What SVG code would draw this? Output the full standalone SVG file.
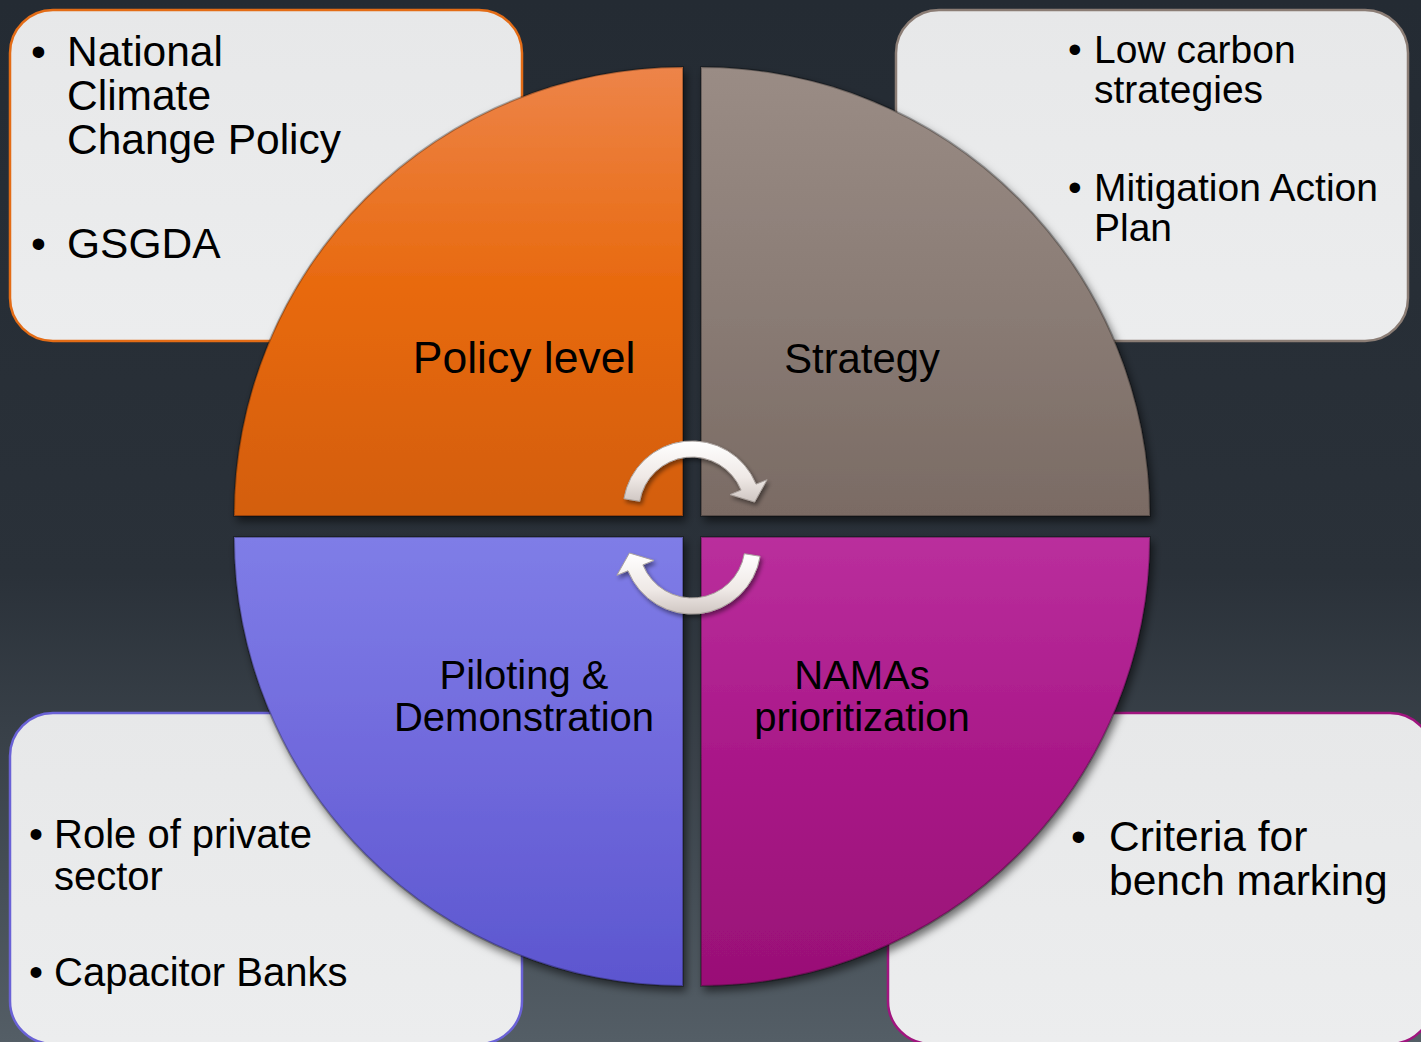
<svg xmlns="http://www.w3.org/2000/svg" width="1421" height="1042" viewBox="0 0 1421 1042">
  <defs>
    <linearGradient id="bg" x1="0" y1="0" x2="0" y2="1">
      <stop offset="0" stop-color="#242b33"/>
      <stop offset="0.55" stop-color="#2a3139"/>
      <stop offset="1" stop-color="#545e66"/>
    </linearGradient>
    <linearGradient id="boxFill" x1="0" y1="0" x2="0" y2="1">
      <stop offset="0" stop-color="#e7e8e9"/>
      <stop offset="1" stop-color="#ecedee"/>
    </linearGradient>
    <linearGradient id="gPolicy" gradientUnits="userSpaceOnUse" x1="0" y1="67" x2="0" y2="516">
      <stop offset="0" stop-color="#ed8449"/>
      <stop offset="0.5" stop-color="#e8690d"/>
      <stop offset="1" stop-color="#d35e0a"/>
    </linearGradient>
    <linearGradient id="gStrategy" gradientUnits="userSpaceOnUse" x1="0" y1="67" x2="0" y2="516">
      <stop offset="0" stop-color="#9a8c85"/>
      <stop offset="0.5" stop-color="#8b7d76"/>
      <stop offset="1" stop-color="#7a6b64"/>
    </linearGradient>
    <linearGradient id="gPilot" gradientUnits="userSpaceOnUse" x1="0" y1="537" x2="0" y2="986">
      <stop offset="0" stop-color="#7f7de7"/>
      <stop offset="0.5" stop-color="#7069dc"/>
      <stop offset="1" stop-color="#5c56cf"/>
    </linearGradient>
    <linearGradient id="gNama" gradientUnits="userSpaceOnUse" x1="0" y1="537" x2="0" y2="986">
      <stop offset="0" stop-color="#ba2f9d"/>
      <stop offset="0.5" stop-color="#a91888"/>
      <stop offset="1" stop-color="#991076"/>
    </linearGradient>
    <linearGradient id="gArrow" x1="0" y1="0" x2="0" y2="1">
      <stop offset="0" stop-color="#ffffff"/>
      <stop offset="0.6" stop-color="#efe9e6"/>
      <stop offset="1" stop-color="#cfc6c2"/>
    </linearGradient>
    <filter id="shadow" x="-10%" y="-10%" width="125%" height="125%">
      <feDropShadow dx="3" dy="5" stdDeviation="4" flood-color="#000" flood-opacity="0.55"/>
    </filter>
    <filter id="arrowShadow" x="-20%" y="-20%" width="150%" height="150%">
      <feDropShadow dx="2" dy="3" stdDeviation="2" flood-color="#000" flood-opacity="0.45"/>
    </filter>
    <style>
      .box { fill: url(#boxFill); stroke-width: 2.5; }
      .quad { stroke: rgba(0,0,0,0.28); stroke-width: 2; filter: url(#shadow); }
      .arrow { fill: url(#gArrow); stroke: #a9a19d; stroke-width: 1; filter: url(#arrowShadow); }
      text { font-family: "Liberation Sans", Arial, sans-serif; fill: #000; }
      .label { text-anchor: middle; }
    </style>
  </defs>

  <!-- backdrop -->
  <rect x="0" y="0" width="1421" height="1042" fill="url(#bg)"/>

  <!-- detail boxes behind the wheel -->
  <g id="box-policy">
    <rect class="box" x="10" y="10" width="512" height="331" rx="43" stroke="#e36c16"/>
    <text font-size="42.5"><tspan x="31" y="66">•</tspan><tspan x="67" y="66">National</tspan><tspan x="67" y="110">Climate</tspan><tspan x="67" y="154">Change Policy</tspan><tspan x="31" y="258">•</tspan><tspan x="67" y="258">GSGDA</tspan></text>
  </g>
  <g id="box-strategy">
    <rect class="box" x="896" y="10" width="512" height="331" rx="43" stroke="#8b7d75"/>
    <text font-size="39"><tspan x="1068" y="63">•</tspan><tspan x="1094" y="63">Low carbon</tspan><tspan x="1094" y="103">strategies</tspan><tspan x="1068" y="201">•</tspan><tspan x="1094" y="201">Mitigation Action</tspan><tspan x="1094" y="241">Plan</tspan></text>
  </g>
  <g id="box-piloting">
    <rect class="box" x="10" y="713" width="512" height="331" rx="43" stroke="#6a62d6"/>
    <text font-size="40"><tspan x="29" y="848">•</tspan><tspan x="54" y="848">Role of private</tspan><tspan x="54" y="890">sector</tspan><tspan x="29" y="986">•</tspan><tspan x="54" y="986">Capacitor Banks</tspan></text>
  </g>
  <g id="box-namas">
    <rect class="box" x="888" y="713" width="545" height="331" rx="43" stroke="#a0157f"/>
    <text font-size="42.5"><tspan x="1071" y="851">•</tspan><tspan x="1109" y="851">Criteria for</tspan><tspan x="1109" y="895">bench marking</tspan></text>
  </g>

  <!-- wheel quadrants -->
  <g id="quad-policy">
    <path class="quad" fill="url(#gPolicy)" d="M683,516 L234,516 A449,449 0 0 1 683,67 Z"/>
    <text class="label" x="524" y="373" font-size="44.5">Policy level</text>
  </g>
  <g id="quad-strategy">
    <path class="quad" fill="url(#gStrategy)" d="M701,516 L701,67 A449,449 0 0 1 1150,516 Z"/>
    <text class="label" x="862" y="373" font-size="41.8">Strategy</text>
  </g>
  <g id="quad-piloting">
    <path class="quad" fill="url(#gPilot)" d="M683,537 L683,986 A449,449 0 0 1 234,537 Z"/>
    <text class="label" font-size="40"><tspan x="524" y="689">Piloting &amp;</tspan><tspan x="524" y="731">Demonstration</tspan></text>
  </g>
  <g id="quad-namas">
    <path class="quad" fill="url(#gNama)" d="M701,537 L1150,537 A449,449 0 0 1 701,986 Z"/>
    <text class="label" font-size="40"><tspan x="862" y="689">NAMAs</tspan><tspan x="862" y="731">prioritization</tspan></text>
  </g>

  <!-- cycle arrows at the hub -->
  <g id="connectors">
    <path class="arrow" d="M623.9,498.7 A69,69 0 0 1 756.0,484.2 L767.1,479.7 L754.6,502.0 L730.0,494.6 L741.1,490.1 A53,53 0 0 0 639.7,501.3 Z"/>
    <path class="arrow" d="M760.1,556.3 A69,69 0 0 1 628.0,570.8 L616.9,575.3 L629.4,553.0 L654.0,560.4 L642.9,564.9 A53,53 0 0 0 744.3,553.7 Z"/>
  </g>
</svg>
